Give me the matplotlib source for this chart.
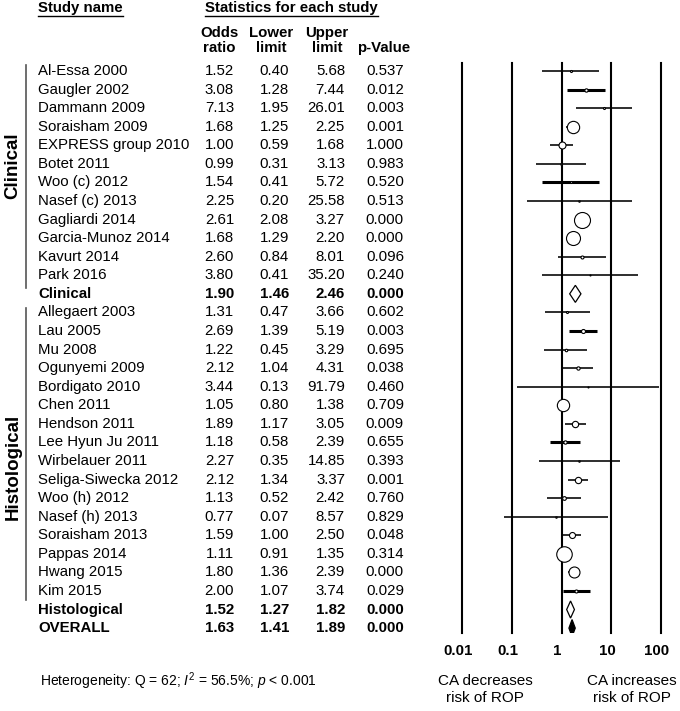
import matplotlib
matplotlib.use("Agg")
import matplotlib.pyplot as plt
from matplotlib.transforms import blended_transform_factory, ScaledTranslation
from matplotlib.lines import Line2D
from matplotlib.patches import Polygon

plt.rcParams['font.family'] = ['Liberation Sans', 'DejaVu Sans']
plt.rcParams['mathtext.fontset'] = 'custom'
plt.rcParams['mathtext.rm'] = 'Liberation Sans'
plt.rcParams['mathtext.it'] = 'Liberation Sans:italic'
plt.rcParams['mathtext.bf'] = 'Liberation Sans:bold'

# ---------------- data ----------------
clinical_names = ["Al-Essa 2000", "Gaugler 2002", "Dammann 2009", "Soraisham 2009",
                  "EXPRESS group 2010", "Botet 2011", "Woo (c) 2012", "Nasef (c) 2013",
                  "Gagliardi 2014", "Garcia-Munoz 2014", "Kavurt 2014", "Park 2016"]
clinical_or = [1.52, 3.08, 7.13, 1.68, 1.00, 0.99, 1.54, 2.25, 2.61, 1.68, 2.60, 3.80]
clinical_lo = [0.40, 1.28, 1.95, 1.25, 0.59, 0.31, 0.41, 0.20, 2.08, 1.29, 0.84, 0.41]
clinical_hi = [5.68, 7.44, 26.01, 2.25, 1.68, 3.13, 5.72, 25.58, 3.27, 2.20, 8.01, 35.20]
clinical_p = [0.537, 0.012, 0.003, 0.001, 1.000, 0.983, 0.520, 0.513, 0.000, 0.000, 0.096, 0.240]

histo_names = ["Allegaert 2003", "Lau 2005", "Mu 2008", "Ogunyemi 2009", "Bordigato 2010",
               "Chen 2011", "Hendson 2011", "Lee Hyun Ju 2011", "Wirbelauer 2011",
               "Seliga-Siwecka 2012", "Woo (h) 2012", "Nasef (h) 2013", "Soraisham 2013",
               "Pappas 2014", "Hwang 2015", "Kim 2015"]
histo_or = [1.31, 2.69, 1.22, 2.12, 3.44, 1.05, 1.89, 1.18, 2.27, 2.12, 1.13, 0.77, 1.59, 1.11, 1.80, 2.00]
histo_lo = [0.47, 1.39, 0.45, 1.04, 0.13, 0.80, 1.17, 0.58, 0.35, 1.34, 0.52, 0.07, 1.00, 0.91, 1.36, 1.07]
histo_hi = [3.66, 5.19, 3.29, 4.31, 91.79, 1.38, 3.05, 2.39, 14.85, 3.37, 2.42, 8.57, 2.50, 1.35, 2.39, 3.74]
histo_p = [0.602, 0.003, 0.695, 0.038, 0.460, 0.709, 0.009, 0.655, 0.393, 0.001, 0.760, 0.829, 0.048, 0.314, 0.000, 0.029]

summary_names = ["Clinical", "Histological", "OVERALL"]
summary_or = [1.90, 1.52, 1.63]
summary_lo = [1.46, 1.27, 1.41]
summary_hi = [2.46, 1.82, 1.89]
summary_p = [0.000, 0.000, 0.000]

tick_values = [0.01, 0.1, 1, 10, 100]
tick_labels = ["0.01", "0.1", "1", "10", "100"]

# marker diameters (px) approximating study weights, and thick-CI flags (styles)
clinical_marker = [2, 3.3, 2, 12.3, 7, 1.5, 2, 1.5, 16, 14, 3, 1]
histo_marker = [2, 4, 2.5, 3.3, 1, 12.3, 6.3, 3.3, 1.5, 6.3, 3.7, 1.5, 6, 15.5, 11, 3]
clinical_thick = [0, 1, 0, 0, 0, 0, 1, 0, 0, 0, 0, 0]
histo_thick = [0, 1, 0, 0, 0, 0, 0, 1, 0, 0, 0, 0, 0, 0, 0, 1]

# ---------------- figure ----------------
W, H = 680, 711
fig = plt.figure(figsize=(W / 100, H / 100), dpi=100)

def fx(px):
    return px / W

def fy(py):
    return 1 - py / H

row0, row_step = 71, 18.57
ax_top, ax_bot = 63, 633
ax = fig.add_axes([fx(462), fy(ax_bot), fx(661) - fx(462), (ax_bot - ax_top) / H])
ax.set_xscale('log')
ax.set_xlim(0.01, 100)
ax.set_ylim(30 + (ax_bot - (row0 + 30 * row_step)) / row_step, -(row0 - ax_top) / row_step)
for s in ax.spines.values():
    s.set_visible(False)
ax.set_yticks([])
ax.set_xticks(tick_values)
ax.set_xticklabels(tick_labels, fontweight='bold', fontsize=10.8)
ax.minorticks_off()
ax.tick_params(axis='x', length=0, pad=8)
for lab in ax.get_xticklabels():
    lab.set_transform(lab.get_transform() + ScaledTranslation(-4 / 100, 0, fig.dpi_scale_trans))

for t in tick_values:
    ax.axvline(t, color='black', lw=1.5, clip_on=False, zorder=1)

FS = 10.8
tr = blended_transform_factory(fig.transFigure, ax.transData)

def draw_numbers(row, name, o, lo, hi, p, bold=False):
    fw = 'bold' if bold else 'normal'
    ax.text(fx(38), row, name, transform=tr, ha='left', va='center', fontsize=FS, fontweight=fw)
    ax.text(fx(234), row, f"{o:.2f}", transform=tr, ha='right', va='center', fontsize=FS, fontweight=fw)
    ax.text(fx(289), row, f"{lo:.2f}", transform=tr, ha='right', va='center', fontsize=FS, fontweight=fw)
    ax.text(fx(345), row, f"{hi:.2f}", transform=tr, ha='right', va='center', fontsize=FS, fontweight=fw)
    ax.text(fx(404), row, f"{p:.3f}", transform=tr, ha='right', va='center', fontsize=FS, fontweight=fw)

def draw_study(row, o, lo, hi, diam, thick):
    ax.plot([lo, hi], [row, row], color='black', lw=2.2 if thick else 1.15,
            solid_capstyle='butt', zorder=2, clip_on=False)
    ax.scatter([o], [row], s=(diam * 0.72) ** 2, facecolor='white', edgecolor='black',
               linewidths=0.8, zorder=3, clip_on=False)

def draw_diamond(row, o, lo, hi, filled):
    h = 0.46
    poly = Polygon([(lo, row), (o, row - h), (hi, row), (o, row + h)], closed=True,
                   facecolor='black' if filled else 'white', edgecolor='black', lw=0.9, zorder=3)
    ax.add_patch(poly)

row = 0
clin_start = row
for i in range(len(clinical_names)):
    draw_numbers(row, clinical_names[i], clinical_or[i], clinical_lo[i], clinical_hi[i], clinical_p[i])
    draw_study(row, clinical_or[i], clinical_lo[i], clinical_hi[i], clinical_marker[i], clinical_thick[i])
    row += 1
clin_end = row - 1
draw_numbers(row, summary_names[0], summary_or[0], summary_lo[0], summary_hi[0], summary_p[0], bold=True)
draw_diamond(row, summary_or[0], summary_lo[0], summary_hi[0], False)
row += 1
hist_start = row
for i in range(len(histo_names)):
    draw_numbers(row, histo_names[i], histo_or[i], histo_lo[i], histo_hi[i], histo_p[i])
    draw_study(row, histo_or[i], histo_lo[i], histo_hi[i], histo_marker[i], histo_thick[i])
    row += 1
hist_end = row - 1
draw_numbers(row, summary_names[1], summary_or[1], summary_lo[1], summary_hi[1], summary_p[1], bold=True)
draw_diamond(row, summary_or[1], summary_lo[1], summary_hi[1], False)
row += 1
draw_numbers(row, summary_names[2], summary_or[2], summary_lo[2], summary_hi[2], summary_p[2], bold=True)
draw_diamond(row, summary_or[2], summary_lo[2], summary_hi[2], True)

# group brackets and labels
ax.add_line(Line2D([fx(26), fx(26)], [clin_start - 0.3, clin_end + 0.7], transform=tr,
                   color='#555555', lw=1.2, clip_on=False))
ax.add_line(Line2D([fx(26), fx(26)], [hist_start - 0.25, hist_end + 0.5], transform=tr,
                   color='#555555', lw=1.2, clip_on=False))
ax.text(fx(13), clin_start + 5.1, "Clinical", transform=tr, rotation=90, ha='center', va='center',
        fontsize=13.5, fontweight='bold')
ax.text(fx(13), hist_start + 8.3, "Histological", transform=tr, rotation=90, ha='center', va='center',
        fontsize=13.5, fontweight='bold')

# headers
t1 = fig.text(fx(38), fy(8), "Study name", ha='left', va='center', fontsize=FS, fontweight='bold')
t2 = fig.text(fx(205), fy(8), "Statistics for each study", ha='left', va='center', fontsize=FS, fontweight='bold')
for x, l1, l2 in [(219, "Odds", "ratio"), (271, "Lower", "limit"), (327, "Upper", "limit")]:
    fig.text(fx(x), fy(33), l1, ha='center', va='center', fontsize=FS, fontweight='bold')
    fig.text(fx(x), fy(48), l2, ha='center', va='center', fontsize=FS, fontweight='bold')
fig.text(fx(384), fy(48), "p-Value", ha='center', va='center', fontsize=FS, fontweight='bold')

fig.canvas.draw()
r = fig.canvas.get_renderer()
for t in (t1, t2):
    bb = t.get_window_extent(r)
    fig.add_artist(Line2D([bb.x0 / W, bb.x1 / W], [fy(15.5), fy(15.5)], transform=fig.transFigure,
                          color='black', lw=1.0))

# footer
fig.text(fx(40), fy(681), r"Heterogeneity: Q = 62; $I^2$ = 56.5%; $p$ < 0.001", ha='left', va='center',
         fontsize=10)
fig.text(fx(485), fy(681), "CA decreases", ha='center', va='center', fontsize=11)
fig.text(fx(485), fy(698), "risk of ROP", ha='center', va='center', fontsize=11)
fig.text(fx(632), fy(681), "CA increases", ha='center', va='center', fontsize=11)
fig.text(fx(632), fy(698), "risk of ROP", ha='center', va='center', fontsize=11)

fig.savefig("out.png", dpi=100)
